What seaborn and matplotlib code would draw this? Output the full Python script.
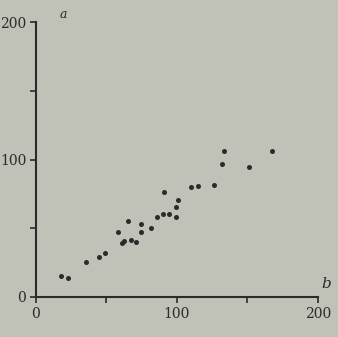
import matplotlib
matplotlib.use("Agg")
import matplotlib.pyplot as plt
import pandas as pd
import seaborn as sns

# readings (b horizontal, a vertical)
b_vals = [17.8, 22.8, 35.4, 44.4, 49.0, 58.5, 60.9, 62.1, 65.2, 67.2,
          71.3, 74.2, 74.5, 81.9, 85.8, 89.9, 94.4, 90.6, 99.6, 99.3,
          100.5, 109.8, 114.9, 126.6, 132.3, 133.3, 151.3, 167.2]
a_vals = [15.0, 13.8, 25.4, 29.3, 32.3, 47.3, 39.5, 40.5, 55.2, 41.7,
          40.3, 53.3, 47.5, 50.5, 58.5, 60.4, 60.6, 76.4, 58.5, 65.3,
          70.4, 79.7, 81.0, 81.8, 96.9, 106.0, 94.3, 106.4]
major_ticks = [0, 100, 200]
minor_ticks = [50, 150]

df = pd.DataFrame({"b": b_vals, "a": a_vals})

paper = "#c0c1b7"
ink = "#2b2b2b"

sns.set_style("ticks")
plt.rcParams["font.family"] = ["DejaVu Serif"]

fig = plt.figure(figsize=(3.38, 3.37), dpi=100, facecolor=paper)
ax = fig.add_axes([0.1065, 0.1187, 0.834, 0.816])
ax.set_facecolor(paper)

sns.scatterplot(data=df, x="b", y="a", ax=ax, color=ink, s=13,
                linewidth=0, legend=False)

ax.set_xlim(0, 200)
ax.set_ylim(0, 200)
ax.set_xticks(major_ticks)
ax.set_yticks(major_ticks)
ax.set_xticks(minor_ticks, minor=True)
ax.set_yticks(minor_ticks, minor=True)
ax.tick_params(which="both", direction="out", length=4, width=1.2,
               color=ink, labelcolor=ink, labelsize=10, pad=3)
ax.set_xlabel("")
ax.set_ylabel("")

for side in ["top", "right"]:
    ax.spines[side].set_visible(False)
for side in ["left", "bottom"]:
    ax.spines[side].set_color(ink)
    ax.spines[side].set_linewidth(1.5)

ax.text(0.085, 1.005, "a", transform=ax.transAxes, style="italic",
        fontsize=9, color=ink, ha="left", va="bottom")
ax.text(1.03, 0.02, "b", transform=ax.transAxes, style="italic",
        fontsize=11, color=ink, ha="center", va="bottom")

fig.savefig("out.png", dpi=100, facecolor=paper)
